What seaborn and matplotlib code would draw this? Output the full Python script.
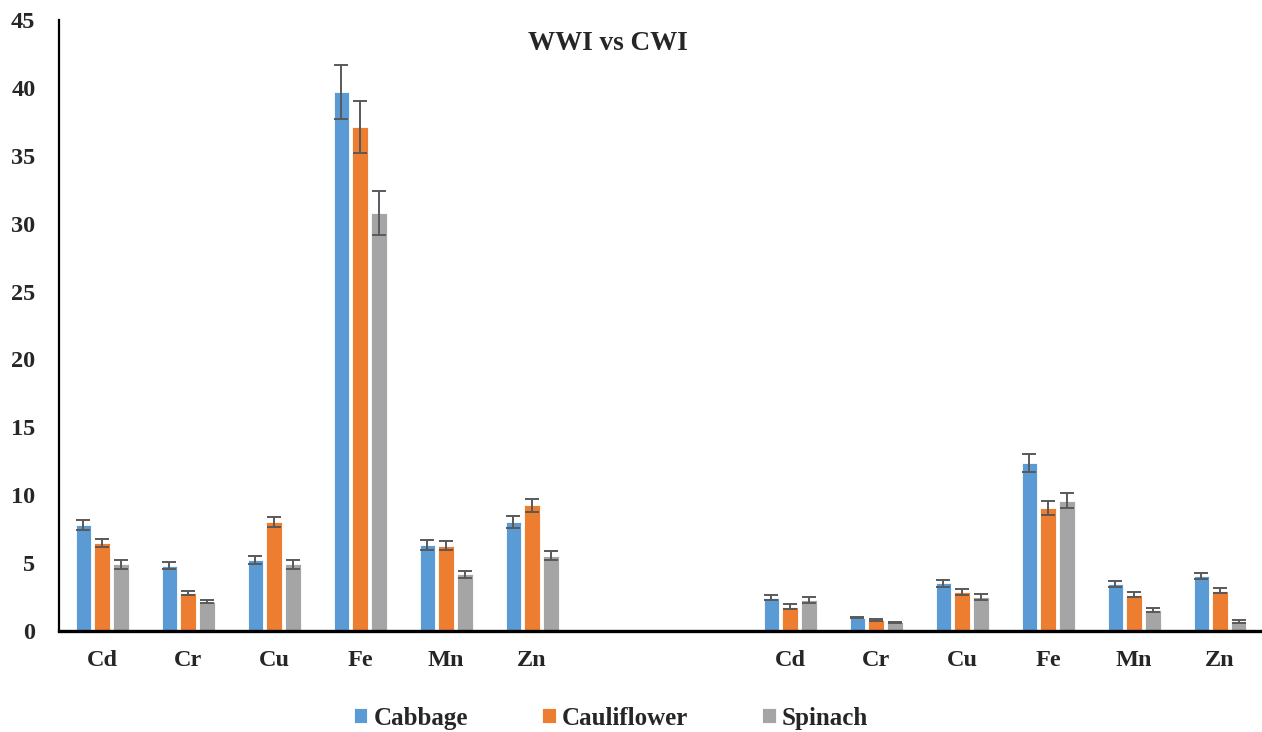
#!/usr/bin/env python3
"""Grouped bar chart of metal concentrations in vegetables, WWI vs CWI."""

import numpy as np
import matplotlib.pyplot as plt
import seaborn as sns
import pandas as pd

metals = ["Cd", "Cr", "Cu", "Fe", "Mn", "Zn"]
vegetables = ["Cabbage", "Cauliflower", "Spinach"]
colors = ["#5B9BD5", "#ED7D31", "#A5A5A5"]

# WWI (left block)
wwi_cabbage = [7.8, 4.8, 5.25, 39.7, 6.3, 8.0]
wwi_cauliflower = [6.5, 2.8, 8.0, 37.1, 6.27, 9.26]
wwi_spinach = [4.9, 2.15, 4.9, 30.8, 4.17, 5.53]
wwi_cabbage_err = [0.37, 0.25, 0.3, 2.0, 0.37, 0.45]
wwi_cauliflower_err = [0.3, 0.18, 0.37, 1.9, 0.33, 0.47]
wwi_spinach_err = [0.3, 0.1, 0.3, 1.6, 0.26, 0.33]

# CWI (right block)
cwi_cabbage = [2.46, 0.99, 3.5, 12.37, 3.45, 4.06]
cwi_cauliflower = [1.79, 0.79, 2.86, 9.05, 2.67, 2.96]
cwi_spinach = [2.29, 0.64, 2.5, 9.6, 1.56, 0.72]
cwi_cabbage_err = [0.2, 0.07, 0.25, 0.67, 0.2, 0.22]
cwi_cauliflower_err = [0.18, 0.06, 0.2, 0.5, 0.17, 0.17]
cwi_spinach_err = [0.2, 0.05, 0.2, 0.55, 0.14, 0.1]

# two empty slots separate the blocks
order = ([f"WWI {m}" for m in metals] + ["gap 1", "gap 2"]
         + [f"CWI {m}" for m in metals])
tick_labels = metals + ["", ""] + metals

rows = []
blocks = {
    "WWI": [(wwi_cabbage, wwi_cabbage_err),
            (wwi_cauliflower, wwi_cauliflower_err),
            (wwi_spinach, wwi_spinach_err)],
    "CWI": [(cwi_cabbage, cwi_cabbage_err),
            (cwi_cauliflower, cwi_cauliflower_err),
            (cwi_spinach, cwi_spinach_err)],
}
for block, series in blocks.items():
    for veg, (vals, errs) in zip(vegetables, series):
        for m, v, e in zip(metals, vals, errs):
            rows.append({"slot": f"{block} {m}", "vegetable": veg,
                         "value": v, "err": e})
df = pd.DataFrame(rows)

sns.set_style("white")
plt.rcParams["font.family"] = ["Liberation Serif", "DejaVu Serif"]
plt.rcParams["font.weight"] = "bold"

fig = plt.figure(figsize=(12.62, 7.32), dpi=100)
ax = fig.add_axes([0.0468, 0.138, 0.954, 0.8347])

sns.barplot(data=df, x="slot", y="value", hue="vegetable",
            order=order, hue_order=vegetables, palette=colors,
            width=0.66, gap=0.2, errorbar=None, saturation=1,
            edgecolor="white", linewidth=0.6, ax=ax)

# error bars at the centre of each drawn bar
err_lookup = df.set_index(["slot", "vegetable"])["err"]
for veg, container in zip(vegetables, ax.containers):
    for bar in container:
        cx = bar.get_x() + bar.get_width() / 2
        slot = order[int(round(cx))]
        ax.errorbar(cx, bar.get_height(), yerr=err_lookup[(slot, veg)],
                    fmt="none", ecolor="#595959", elinewidth=1.4,
                    capsize=4.8, capthick=1.4)

ax.set_xlim(-0.5, len(order) - 0.5)
ax.set_ylim(0, 45)
ax.set_yticks(np.arange(0, 46, 5))
ax.set_xticks(range(len(order)))
ax.set_xticklabels(tick_labels)
ax.set_xlabel("")
ax.set_ylabel("")
ax.tick_params(axis="both", length=0, labelsize=17.5)
ax.tick_params(axis="y", pad=17)
ax.tick_params(axis="x", pad=14)
for lab in ax.get_xticklabels() + ax.get_yticklabels():
    lab.set_fontweight("bold")

sns.despine(ax=ax, top=True, right=True)
ax.spines["left"].set_linewidth(1.6)
ax.spines["bottom"].set_linewidth(2.4)
ax.spines["left"].set_color("black")
ax.spines["bottom"].set_color("black")

fig.text(608 / 1262, 1 - 44 / 732, "WWI vs CWI", ha="center", va="center",
         fontsize=19.5, fontweight="bold")

handles, labels = ax.get_legend_handles_labels()
ax.get_legend().remove()
fig.legend(handles, labels, loc="center", bbox_to_anchor=(0.484, 0.019),
           ncol=3, frameon=False, handlelength=0.55,
           handleheight=0.55, handletextpad=0.25, columnspacing=2.95,
           prop={"weight": "bold", "size": 18})

fig.savefig("out.png", dpi=100, facecolor="white")
